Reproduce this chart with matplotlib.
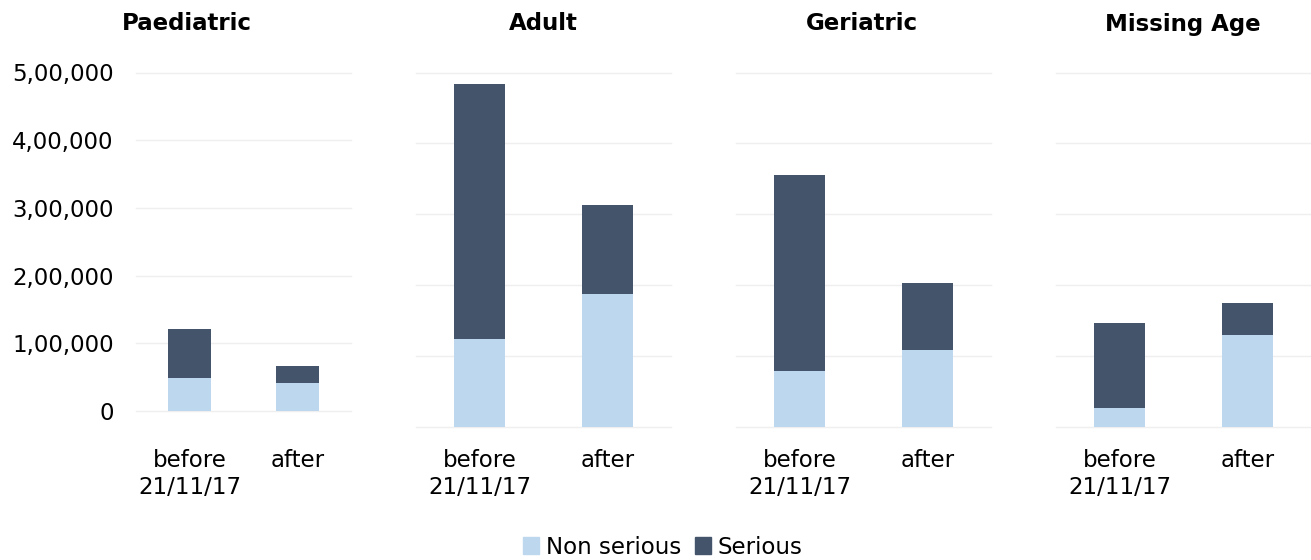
import numpy as np
import matplotlib.pyplot as plt
from matplotlib.ticker import FuncFormatter
from matplotlib.patches import Patch

# Data
groups = ["Paediatric", "Adult", "Geriatric", "Missing Age"]
periods = ["before\n21/11/17", "after"]
non_serious = [
    [49000, 41000],
    [123700, 188000],
    [79000, 108000],
    [26800, 129300],
]
serious_total = [
    [120700, 66500],
    [484200, 312700],
    [355900, 203500],
    [147000, 174500],
]
serious = [[t - n for t, n in zip(tot, ns)] for tot, ns in zip(serious_total, non_serious)]

LIGHT = "#BDD7EE"
DARK = "#44546A"
GRID = "#EFEFEF"
FS = 16.5

W, H = 1311, 560
plt.rcParams['font.family'] = ['DejaVu Sans']


def indian(x, pos=None):
    # 100000 -> 1,00,000
    s = str(int(round(x)))
    if len(s) <= 3:
        return s
    head, tail = s[:-3], s[-3:]
    parts = []
    while len(head) > 2:
        parts.insert(0, head[-2:])
        head = head[:-2]
    if head:
        parts.insert(0, head)
    return ",".join(parts) + "," + tail


fig = plt.figure(figsize=(W / 100, H / 100), dpi=100)

# (left, right, top, bottom) in pixels
boxes = [
    (136, 351, 72.5, 411),
    (416, 671, 72.5, 427),
    (736, 991, 72.5, 427),
    (1056, 1311, 72.5, 427),
]
title_x = [187, 543, 862, 1183]

for i, (l, r, t, b) in enumerate(boxes):
    ax = fig.add_axes([l / W, 1 - b / H, (r - l) / W, (b - t) / H])
    x = np.arange(len(periods))
    ax.bar(x, non_serious[i], width=0.4, color=LIGHT, zorder=3)
    ax.bar(x, serious[i], width=0.4, bottom=non_serious[i], color=DARK, zorder=3)
    ax.set_xlim(-0.5, 1.5)
    ax.set_ylim(0, 500000)
    ax.set_yticks(np.arange(0, 500001, 100000))
    ax.yaxis.grid(True, color=GRID, linewidth=1)
    for gl in ax.get_ygridlines():
        gl.set_clip_on(False)
    ax.set_axisbelow(True)
    for s in ax.spines.values():
        s.set_visible(False)
    ax.set_xticks(x)
    ax.set_xticklabels(periods, fontsize=FS, linespacing=1.25)
    pad = 15.5 + (427 - b) * 0.72
    ax.tick_params(axis='x', length=0, pad=pad)
    if i == 0:
        ax.yaxis.set_major_formatter(FuncFormatter(indian))
        ax.tick_params(axis='y', length=0, pad=16, labelsize=FS)
    else:
        ax.tick_params(axis='y', length=0, labelleft=False)
    fig.text(title_x[i] / W, 1 - 24 / H, groups[i], ha='center', va='center',
             fontsize=FS, fontweight='bold')

handles = [Patch(color=LIGHT, label="Non serious"), Patch(color=DARK, label="Serious")]
fig.legend(handles=handles, loc='center', bbox_to_anchor=(663 / W, 1 - 547 / H),
           ncol=2, frameon=False, fontsize=FS, handlelength=0.7, handleheight=0.7,
           handletextpad=0.3, columnspacing=0.6)

fig.savefig("out.png", dpi=100)
